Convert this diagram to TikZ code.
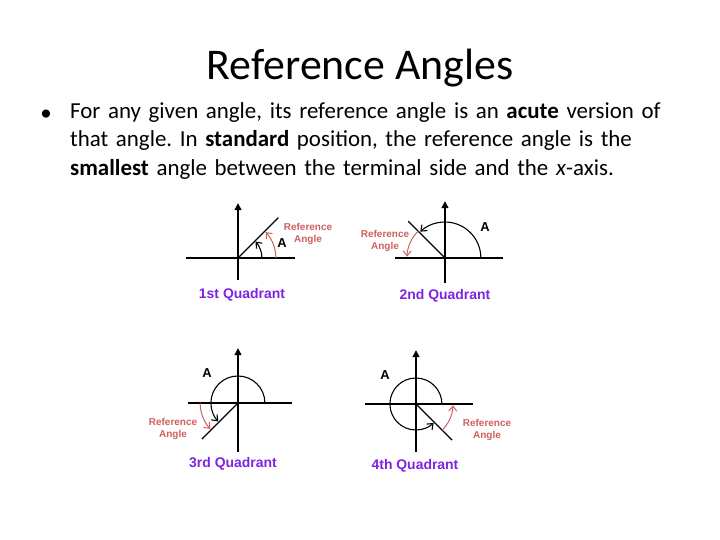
\documentclass[tikz,border=0pt]{standalone}
\usepackage{fontspec}
\setmainfont{Carlito}
\newfontfamily\labelfont{Liberation Sans}
\usepackage{xcolor}
\usetikzlibrary{arrows.meta, positioning}
\definecolor{refred}{RGB}{205,95,95}
\definecolor{quadpurple}{RGB}{125,35,225}

\begin{document}
\begin{tikzpicture}[
  x=1bp, y=1bp,
  axis/.style={line width=1.3pt},
  side/.style={line width=1.3pt},
  turn/.style={line width=1.1pt, -{Straight Barb[length=5pt, width=8pt]}},
  refarc/.style={refred, line width=1pt, -{Straight Barb[length=5pt, width=8pt]}},
  reflab/.style={refred, font=\labelfont\bfseries\fontsize{10}{11.5}\selectfont, align=center},
  alab/.style={font=\labelfont\bfseries\fontsize{13}{14}\selectfont},
  quadlab/.style={quadpurple, font=\labelfont\bfseries\fontsize{14}{16}\selectfont}
]
\useasboundingbox (0,0) rectangle (720,540);

% title and text
\node (title) at (360,472) {\fontsize{44}{52}\selectfont Reference Angles};
\node[anchor=north west, align=left, inner sep=0pt, text width=650bp,
      font=\fontsize{23}{29}\selectfont\frenchspacing] (body) at (70,438)
  {For any given angle, its reference angle is an \textbf{acute} version of\\
   that angle. In \textbf{standard} position, the reference angle is the\\
   \textbf{smallest} angle between the terminal side and the \textit{x}-axis.};
\node[anchor=east, font=\fontsize{23}{29}\selectfont, inner sep=0pt] (dot) at (52,425) {\textbullet};

% 1st quadrant
\coordinate (o1) at (238,282);
\draw[axis] ([xshift=-52]o1) -- ([xshift=57]o1);
\draw[axis, -{Triangle[length=7pt, width=7pt]}] ([yshift=-22]o1) -- ([yshift=55]o1);
\draw[side] (o1) -- ++(45:57);
\draw[turn] ([xshift=24]o1) arc (0:43:24);
\draw[refarc] ([xshift=38]o1) arc (0:43:38);
\node[alab] (a1) at (282,297) {A};
\node[reflab] (r1) at (308,306) {Reference\\Angle};
\node[quadlab] (q1) at (242,245) {1st Quadrant};

% 2nd quadrant
\coordinate (o2) at (445,282);
\draw[axis] ([xshift=-50]o2) -- ([xshift=58]o2);
\draw[axis, -{Triangle[length=7pt, width=7pt]}] ([yshift=-25]o2) -- ([yshift=57]o2);
\draw[side] (o2) -- ++(135:52);
\draw[turn] ([xshift=36]o2) arc (0:133:36);
\draw[refarc] (o2) ++(135:38) arc (135:178:38);
\node[alab] (a2) at (485,313) {A};
\node[reflab] (r2) at (385,299) {Reference\\Angle};
\node[quadlab] (q2) at (445,244) {2nd Quadrant};

% 3rd quadrant
\coordinate (o3) at (238,137);
\draw[axis] ([xshift=-50]o3) -- ([xshift=54]o3);
\draw[axis, -{Triangle[length=7pt, width=7pt]}] ([yshift=-49]o3) -- ([yshift=55]o3);
\draw[side] (o3) -- ++(225:51);
\draw[turn] ([xshift=27]o3) arc (0:223:27);
\draw[refarc] ([xshift=-38]o3) arc (180:223:38);
\node[alab] (a3) at (207,167) {A};
\node[reflab] (r3) at (173,111) {Reference\\Angle};
\node[quadlab] (q3) at (233,76) {3rd Quadrant};

% 4th quadrant
\coordinate (o4) at (416,136);
\draw[axis] ([xshift=-51]o4) -- ([xshift=57]o4);
\draw[axis, -{Triangle[length=7pt, width=7pt]}] ([yshift=-48]o4) -- ([yshift=54]o4);
\draw[side] (o4) -- ++(315:51);
\draw[turn] ([xshift=26]o4) arc (0:313:26);
\draw[refarc] (o4) ++(315:37) arc (315:358:37);
\node[alab] (a4) at (385,165) {A};
\node[reflab] (r4) at (487,110) {Reference\\Angle};
\node[quadlab] (q4) at (415,74) {4th Quadrant};
\end{tikzpicture}
\end{document}
